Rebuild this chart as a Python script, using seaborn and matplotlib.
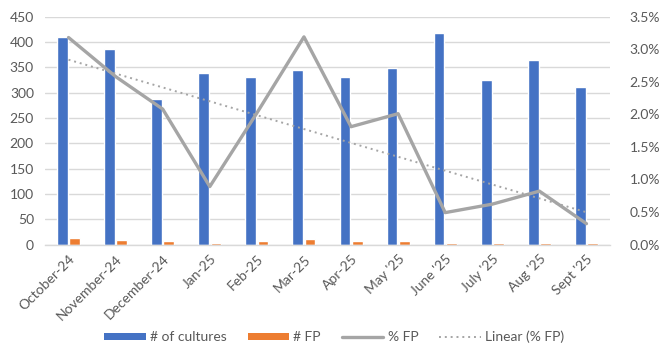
import numpy as np
import pandas as pd
import seaborn as sns
import matplotlib
matplotlib.use("Agg")
import matplotlib.pyplot as plt
from matplotlib.patches import Patch
from matplotlib.lines import Line2D
from matplotlib.ticker import PercentFormatter, FixedLocator

months = ["October-24", "November-24", "December-24", "Jan-25", "Feb-25", "Mar-25",
          "Apr-25", "May '25", "June '25", "July '25", "Aug '25", "Sept '25"]
cultures = [409, 387, 288, 338, 331, 344, 331, 348, 417, 325, 365, 312]
false_pos = [13, 9, 7, 3, 7, 11, 7, 7, 2, 2, 2, 2]
pct_fp = [3.18, 2.58, 2.08, 0.89, 2.02, 3.19, 1.81, 2.01, 0.49, 0.62, 0.82, 0.32]

BLUE, ORANGE, GREY = "#4472C4", "#ED7D31", "#A5A5A5"
TXT = "#595959"
GRID = "#D9D9D9"

sns.set_theme(style="white")
plt.rcParams["font.family"] = ["Lato", "DejaVu Sans"]

df = pd.DataFrame({
    "month": months * 2,
    "value": cultures + false_pos,
    "series": ["# of cultures"] * len(months) + ["# FP"] * len(months),
})

fig = plt.figure(figsize=(6.62, 3.47), dpi=100)
W, H = 662, 347
left, right, top, bottom = 45, 610, 16.7, 244.5
ax = fig.add_axes([left / W, 1 - bottom / H, (right - left) / W, (bottom - top) / H])

sns.barplot(data=df, x="month", y="value", hue="series", order=months,
            palette=[BLUE, ORANGE], width=0.52, gap=0.12, ax=ax,
            legend=False, saturation=1)

ax.set_xlim(-0.5, len(months) - 0.5)
ax.set_ylim(0, 450)
ax.set_yticks(np.arange(0, 451, 50))
ax.yaxis.grid(True, color=GRID, linewidth=1)
ax.set_axisbelow(True)
ax.set_xlabel("")
ax.set_ylabel("")
for s in ["top", "left", "right"]:
    ax.spines[s].set_visible(False)
ax.spines["bottom"].set_color(GRID)
ax.spines["bottom"].set_linewidth(1)
ax.tick_params(axis="y", length=0, pad=8, labelsize=10, labelcolor=TXT)
ax.tick_params(axis="x", which="major", length=0, pad=6, labelsize=10, labelcolor=TXT)
ax.xaxis.set_minor_locator(FixedLocator(np.arange(-0.5, len(months), 1.0)))
ax.tick_params(axis="x", which="minor", length=5, color=GRID, width=1)
plt.setp(ax.get_xticklabels(), rotation=45, ha="right", rotation_mode="anchor")

ax2 = ax.twinx()
x = np.arange(len(months))
sns.lineplot(x=x, y=np.array(pct_fp) / 100, ax=ax2, color=GREY, linewidth=2.4)
coef = np.polyfit(x, pct_fp, 1)
trend = np.polyval(coef, x) / 100
sns.lineplot(x=x, y=trend, ax=ax2, color=GREY, linewidth=1.4, linestyle=(0, (1, 2)))
ax2.set_ylim(0, 0.035)
ax2.set_yticks(np.arange(0, 0.0351, 0.005))
ax2.yaxis.set_major_formatter(PercentFormatter(1.0, decimals=1))
ax2.tick_params(axis="y", length=0, pad=14, labelsize=10, labelcolor=TXT)
ax2.set_xlim(-0.5, len(months) - 0.5)
for s in ax2.spines.values():
    s.set_visible(False)
ax2.grid(False)

handles = [
    Patch(facecolor=BLUE, edgecolor="none", label="# of cultures"),
    Patch(facecolor=ORANGE, edgecolor="none", label="# FP"),
    Line2D([], [], color=GREY, linewidth=2.4, label="% FP"),
    Line2D([], [], color=GREY, linewidth=1.4, linestyle=(0, (1, 2)), label="Linear (% FP)"),
]
leg = fig.legend(handles=handles, loc="center", bbox_to_anchor=(334 / W, 1 - 337 / H),
                 ncol=4, frameon=False, fontsize=10, handlelength=3.0,
                 handleheight=0.45, handletextpad=0.3, columnspacing=1.5)
for t in leg.get_texts():
    t.set_color(TXT)

fig.savefig("out.png", dpi=100)
